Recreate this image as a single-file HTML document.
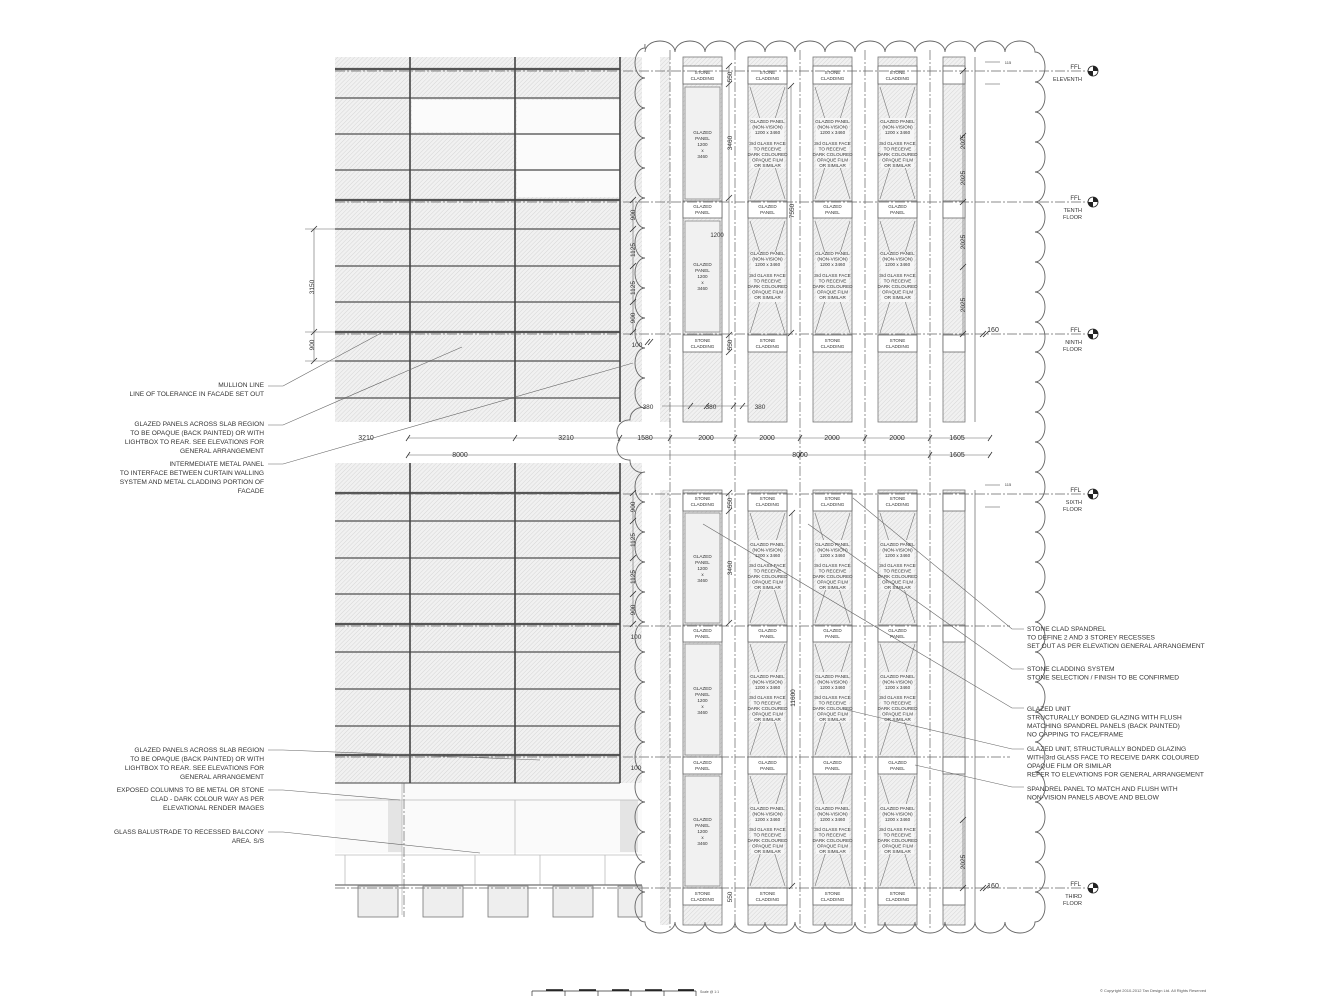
<!DOCTYPE html>
<html><head><meta charset="utf-8"><style>
html,body{margin:0;padding:0;background:#fff;width:1333px;height:1000px;overflow:hidden}
svg{display:block}
text{font-family:"Liberation Sans",sans-serif;fill:#333}
.s{font-size:4.6px;text-anchor:middle;fill:#4a4a4a}
.d{font-size:6.5px;text-anchor:middle;fill:#444}
.l{font-size:6.6px;fill:#333}
.r{font-size:6.6px;fill:#333;text-anchor:end}
</style></head><body>
<svg width="1333" height="1000" viewBox="0 0 1333 1000" xmlns="http://www.w3.org/2000/svg">
<defs>
<pattern id="h" width="3" height="3" patternUnits="userSpaceOnUse" patternTransform="rotate(45)"><rect width="3" height="3" fill="#f1f1f1"/><line x1="0" y1="0" x2="0" y2="3" stroke="#d2d2d2" stroke-width="0.9"/></pattern>
</defs>

<!-- LEFT FACADE upper -->
<rect x="335" y="57" width="285" height="365" fill="url(#h)"/>
<rect x="412" y="100" width="102" height="32" fill="#fbfbfb"/>
<rect x="517" y="100" width="102" height="97" fill="#fbfbfb"/>
<rect x="620" y="57" width="22" height="365" fill="url(#h)"/>
<g stroke="#555" stroke-width="2.2">
<line x1="335" y1="69" x2="620" y2="69"/><line x1="335" y1="200" x2="620" y2="200"/><line x1="335" y1="332" x2="620" y2="332"/>
</g>
<g stroke="#8a8a8a" stroke-width="2">
<line x1="335" y1="98" x2="620" y2="98"/><line x1="335" y1="134" x2="620" y2="134"/><line x1="335" y1="170" x2="620" y2="170"/>
<line x1="335" y1="229" x2="620" y2="229"/><line x1="335" y1="266" x2="620" y2="266"/><line x1="335" y1="302" x2="620" y2="302"/>
<line x1="335" y1="361" x2="620" y2="361"/><line x1="335" y1="398" x2="620" y2="398"/>
</g>
<g stroke="#444" stroke-width="1.6">
<line x1="410" y1="57" x2="410" y2="422"/><line x1="515" y1="57" x2="515" y2="422"/><line x1="620" y1="57" x2="620" y2="422"/>
</g>
<!-- LEFT FACADE lower -->
<rect x="335" y="463" width="285" height="320" fill="url(#h)"/>
<rect x="620" y="463" width="22" height="385" fill="url(#h)"/>
<rect x="335" y="783" width="307" height="70" fill="#fafafa"/>
<rect x="388" y="800" width="14" height="52" fill="#e4e4e4"/>
<rect x="620" y="800" width="18" height="52" fill="#e4e4e4"/>
<g stroke="#bbb" stroke-width="0.8" fill="none">
<line x1="335" y1="800" x2="642" y2="800"/><line x1="335" y1="855" x2="642" y2="855"/>
<line x1="345" y1="855" x2="345" y2="885"/><line x1="475" y1="855" x2="475" y2="885"/><line x1="540" y1="855" x2="540" y2="885"/><line x1="605" y1="855" x2="605" y2="885"/>
<line x1="402" y1="783" x2="402" y2="915"/><line x1="515" y1="800" x2="515" y2="855"/>
</g>
<line x1="335" y1="885" x2="642" y2="885" stroke="#888" stroke-width="1.5"/>
<g fill="#eee" stroke="#777" stroke-width="0.8">
<rect x="358" y="886" width="40" height="31"/><rect x="423" y="886" width="40" height="31"/><rect x="488" y="886" width="40" height="31"/><rect x="553" y="886" width="40" height="31"/><rect x="618" y="886" width="24" height="31"/>
</g>
<g stroke="#555" stroke-width="2.2">
<line x1="335" y1="493" x2="620" y2="493"/><line x1="335" y1="624" x2="620" y2="624"/><line x1="335" y1="755" x2="620" y2="755"/>
</g>
<g stroke="#8a8a8a" stroke-width="2">
<line x1="335" y1="521" x2="620" y2="521"/><line x1="335" y1="558" x2="620" y2="558"/><line x1="335" y1="594" x2="620" y2="594"/>
<line x1="335" y1="652" x2="620" y2="652"/><line x1="335" y1="689" x2="620" y2="689"/><line x1="335" y1="726" x2="620" y2="726"/>
</g>
<line x1="335" y1="783" x2="620" y2="783" stroke="#666" stroke-width="1.2"/>
<g stroke="#444" stroke-width="1.6">
<line x1="410" y1="463" x2="410" y2="783"/><line x1="515" y1="463" x2="515" y2="783"/><line x1="620" y1="463" x2="620" y2="783"/>
</g>

<!-- RIGHT COLUMNS background -->
<g fill="url(#h)">
<rect x="683" y="57" width="39" height="365"/><rect x="748" y="57" width="39" height="365"/><rect x="813" y="57" width="39" height="365"/><rect x="878" y="57" width="39" height="365"/><rect x="943" y="57" width="22" height="365"/>
<rect x="683" y="490" width="39" height="435"/><rect x="748" y="490" width="39" height="435"/><rect x="813" y="490" width="39" height="435"/><rect x="878" y="490" width="39" height="435"/><rect x="943" y="490" width="22" height="435"/>
<rect x="660" y="57" width="10" height="365"/><rect x="660" y="490" width="10" height="435"/>
</g>
<g fill="none" stroke="#777" stroke-width="0.8">
<rect x="683" y="57" width="39" height="365"/><rect x="748" y="57" width="39" height="365"/><rect x="813" y="57" width="39" height="365"/><rect x="878" y="57" width="39" height="365"/><rect x="943" y="57" width="22" height="365"/>
<rect x="683" y="490" width="39" height="435"/><rect x="748" y="490" width="39" height="435"/><rect x="813" y="490" width="39" height="435"/><rect x="878" y="490" width="39" height="435"/><rect x="943" y="490" width="22" height="435"/>
<line x1="975" y1="57" x2="975" y2="422"/><line x1="975" y1="490" x2="975" y2="925"/>
</g>
<!-- boxes -->
<g fill="#fff" stroke="#666" stroke-width="0.8">
<rect x="683" y="66" width="39" height="18"/><rect x="748" y="66" width="39" height="18"/><rect x="813" y="66" width="39" height="18"/><rect x="878" y="66" width="39" height="18"/><rect x="943" y="66" width="22" height="18"/>
<rect x="683" y="201" width="39" height="17"/><rect x="748" y="201" width="39" height="17"/><rect x="813" y="201" width="39" height="17"/><rect x="878" y="201" width="39" height="17"/><rect x="943" y="201" width="22" height="17"/>
<rect x="683" y="335" width="39" height="17"/><rect x="748" y="335" width="39" height="17"/><rect x="813" y="335" width="39" height="17"/><rect x="878" y="335" width="39" height="17"/><rect x="943" y="335" width="22" height="17"/>
<rect x="683" y="493" width="39" height="18"/><rect x="748" y="493" width="39" height="18"/><rect x="813" y="493" width="39" height="18"/><rect x="878" y="493" width="39" height="18"/><rect x="943" y="493" width="22" height="18"/>
<rect x="683" y="625" width="39" height="17"/><rect x="748" y="625" width="39" height="17"/><rect x="813" y="625" width="39" height="17"/><rect x="878" y="625" width="39" height="17"/><rect x="943" y="625" width="22" height="17"/>
<rect x="683" y="757" width="39" height="17"/><rect x="748" y="757" width="39" height="17"/><rect x="813" y="757" width="39" height="17"/><rect x="878" y="757" width="39" height="17"/><rect x="943" y="757" width="22" height="17"/>
<rect x="683" y="888" width="39" height="17"/><rect x="748" y="888" width="39" height="17"/><rect x="813" y="888" width="39" height="17"/><rect x="878" y="888" width="39" height="17"/><rect x="943" y="888" width="22" height="17"/>
</g>
<!-- col1 glazed panels -->
<g fill="#f1f1f1" stroke="#888" stroke-width="0.8">
<rect x="685" y="87" width="35" height="112"/><rect x="685" y="221" width="35" height="111"/><rect x="685" y="513" width="35" height="110"/><rect x="685" y="644" width="35" height="111"/><rect x="685" y="776" width="35" height="110"/>
</g>
<!-- X lines in non-vision panels -->
<g stroke="#777" stroke-width="0.6">
<path d="M750,87 L785,199 M785,87 L750,199 M815,87 L850,199 M850,87 L815,199 M880,87 L915,199 M915,87 L880,199"/>
<path d="M750,221 L785,333 M785,221 L750,333 M815,221 L850,333 M850,221 L815,333 M880,221 L915,333 M915,221 L880,333"/>
<path d="M750,513 L785,623 M785,513 L750,623 M815,513 L850,623 M850,513 L815,623 M880,513 L915,623 M915,513 L880,623"/>
<path d="M750,644 L785,755 M785,644 L750,755 M815,644 L850,755 M850,644 L815,755 M880,644 L915,755 M915,644 L880,755"/>
<path d="M750,776 L785,886 M785,776 L750,886 M815,776 L850,886 M850,776 L815,886 M880,776 L915,886 M915,776 L880,886"/>
</g>
<g fill="#f6f6f6">
<rect x="751" y="118" width="33" height="50"/><rect x="816" y="118" width="33" height="50"/><rect x="881" y="118" width="33" height="50"/>
<rect x="751" y="252" width="33" height="50"/><rect x="816" y="252" width="33" height="50"/><rect x="881" y="252" width="33" height="50"/>
<rect x="751" y="540" width="33" height="50"/><rect x="816" y="540" width="33" height="50"/><rect x="881" y="540" width="33" height="50"/>
<rect x="751" y="672" width="33" height="50"/><rect x="816" y="672" width="33" height="50"/><rect x="881" y="672" width="33" height="50"/>
<rect x="751" y="804" width="33" height="50"/><rect x="816" y="804" width="33" height="50"/><rect x="881" y="804" width="33" height="50"/>
</g>

<!-- centerlines dash-dot -->
<g stroke="#666" stroke-width="0.7" stroke-dasharray="10,2,2,2" fill="none">
<line x1="335" y1="71" x2="1090" y2="71"/><line x1="335" y1="202" x2="1090" y2="202"/><line x1="335" y1="334" x2="1090" y2="334"/>
<line x1="335" y1="494" x2="1090" y2="494"/><line x1="335" y1="626" x2="1010" y2="626"/><line x1="335" y1="757" x2="1010" y2="757"/><line x1="335" y1="888" x2="1090" y2="888"/>
<line x1="670" y1="50" x2="670" y2="930"/><line x1="735" y1="50" x2="735" y2="930"/><line x1="800" y1="50" x2="800" y2="930"/><line x1="865" y1="50" x2="865" y2="930"/><line x1="930" y1="50" x2="930" y2="930"/>
<line x1="404" y1="783" x2="404" y2="917"/>
</g>

<!-- CLOUD -->
<path fill="none" stroke="#666" stroke-width="0.9" d="M645,52
a15,11 0 0 1 30,0 a15,11 0 0 1 30,0 a15,11 0 0 1 30,0 a15,11 0 0 1 30,0 a15,11 0 0 1 30,0 a15,11 0 0 1 30,0 a15,11 0 0 1 30,0 a15,11 0 0 1 30,0 a15,11 0 0 1 30,0 a15,11 0 0 1 30,0 a15,11 0 0 1 30,0 a15,11 0 0 1 30,0 a15,11 0 0 1 30,0
a10,15 0 0 1 0,30 a10,15 0 0 1 0,30 a10,15 0 0 1 0,30 a10,15 0 0 1 0,30 a10,15 0 0 1 0,30 a10,15 0 0 1 0,30 a10,15 0 0 1 0,30 a10,15 0 0 1 0,30 a10,15 0 0 1 0,30 a10,15 0 0 1 0,30 a10,15 0 0 1 0,30 a10,15 0 0 1 0,30 a10,15 0 0 1 0,30 a10,15 0 0 1 0,30 a10,15 0 0 1 0,30 a10,15 0 0 1 0,30 a10,15 0 0 1 0,30 a10,15 0 0 1 0,30 a10,15 0 0 1 0,30 a10,15 0 0 1 0,30 a10,15 0 0 1 0,30 a10,15 0 0 1 0,30 a10,15 0 0 1 0,30 a10,15 0 0 1 0,30 a10,15 0 0 1 0,30 a10,15 0 0 1 0,30 a10,15 0 0 1 0,30 a10,15 0 0 1 0,30 a10,15 0 0 1 0,30
a15,11 0 0 1 -30,0 a15,11 0 0 1 -30,0 a15,11 0 0 1 -30,0 a15,11 0 0 1 -30,0 a15,11 0 0 1 -30,0 a15,11 0 0 1 -30,0 a15,11 0 0 1 -30,0 a15,11 0 0 1 -30,0 a15,11 0 0 1 -30,0 a15,11 0 0 1 -30,0 a15,11 0 0 1 -30,0 a15,11 0 0 1 -30,0 a15,11 0 0 1 -30,0
a10,15 0 0 1 0,-30 a10,15 0 0 1 0,-30 a10,15 0 0 1 0,-30 a10,15 0 0 1 0,-30 a10,15 0 0 1 0,-30 a10,15 0 0 1 0,-30 a10,15 0 0 1 0,-30 a10,15 0 0 1 0,-30 a10,15 0 0 1 0,-30 a10,15 0 0 1 0,-30 a10,15 0 0 1 0,-30 a10,15 0 0 1 0,-30 a10,15 0 0 1 0,-30 a10,15 0 0 1 0,-30 a10,15 0 0 1 0,-30
a12,12 0 0 1 -15,-12 a12,12 0 0 1 -10,-20 a12,12 0 0 1 10,-20 a12,12 0 0 1 15,-12
a10,15 0 0 1 0,-30 a10,15 0 0 1 0,-30 a10,15 0 0 1 0,-30 a10,15 0 0 1 0,-30 a10,15 0 0 1 0,-30 a10,15 0 0 1 0,-30 a10,15 0 0 1 0,-30 a10,15 0 0 1 0,-30 a10,15 0 0 1 0,-30 a10,15 0 0 1 0,-30 a10,15 0 0 1 0,-30 a10,15 0 0 1 0,-30 a10,15 0 0 1 0,-4"/>

<!-- panel texts -->
<g class="s">
<text><tspan x="702.5" y="74">STONE</tspan><tspan x="702.5" y="80">CLADDING</tspan><tspan x="767.5" y="74">STONE</tspan><tspan x="767.5" y="80">CLADDING</tspan><tspan x="832.5" y="74">STONE</tspan><tspan x="832.5" y="80">CLADDING</tspan><tspan x="897.5" y="74">STONE</tspan><tspan x="897.5" y="80">CLADDING</tspan></text>
<text><tspan x="702.5" y="342">STONE</tspan><tspan x="702.5" y="348">CLADDING</tspan><tspan x="767.5" y="342">STONE</tspan><tspan x="767.5" y="348">CLADDING</tspan><tspan x="832.5" y="342">STONE</tspan><tspan x="832.5" y="348">CLADDING</tspan><tspan x="897.5" y="342">STONE</tspan><tspan x="897.5" y="348">CLADDING</tspan></text>
<text><tspan x="702.5" y="500">STONE</tspan><tspan x="702.5" y="506">CLADDING</tspan><tspan x="767.5" y="500">STONE</tspan><tspan x="767.5" y="506">CLADDING</tspan><tspan x="832.5" y="500">STONE</tspan><tspan x="832.5" y="506">CLADDING</tspan><tspan x="897.5" y="500">STONE</tspan><tspan x="897.5" y="506">CLADDING</tspan></text>
<text><tspan x="702.5" y="895">STONE</tspan><tspan x="702.5" y="901">CLADDING</tspan><tspan x="767.5" y="895">STONE</tspan><tspan x="767.5" y="901">CLADDING</tspan><tspan x="832.5" y="895">STONE</tspan><tspan x="832.5" y="901">CLADDING</tspan><tspan x="897.5" y="895">STONE</tspan><tspan x="897.5" y="901">CLADDING</tspan></text>
<text><tspan x="702.5" y="208">GLAZED</tspan><tspan x="702.5" y="214">PANEL</tspan><tspan x="767.5" y="208">GLAZED</tspan><tspan x="767.5" y="214">PANEL</tspan><tspan x="832.5" y="208">GLAZED</tspan><tspan x="832.5" y="214">PANEL</tspan><tspan x="897.5" y="208">GLAZED</tspan><tspan x="897.5" y="214">PANEL</tspan></text>
<text><tspan x="702.5" y="632">GLAZED</tspan><tspan x="702.5" y="638">PANEL</tspan><tspan x="767.5" y="632">GLAZED</tspan><tspan x="767.5" y="638">PANEL</tspan><tspan x="832.5" y="632">GLAZED</tspan><tspan x="832.5" y="638">PANEL</tspan><tspan x="897.5" y="632">GLAZED</tspan><tspan x="897.5" y="638">PANEL</tspan></text>
<text><tspan x="702.5" y="764">GLAZED</tspan><tspan x="702.5" y="770">PANEL</tspan><tspan x="767.5" y="764">GLAZED</tspan><tspan x="767.5" y="770">PANEL</tspan><tspan x="832.5" y="764">GLAZED</tspan><tspan x="832.5" y="770">PANEL</tspan><tspan x="897.5" y="764">GLAZED</tspan><tspan x="897.5" y="770">PANEL</tspan></text>
<text><tspan x="702.5" y="134">GLAZED</tspan><tspan x="702.5" y="140">PANEL</tspan><tspan x="702.5" y="146">1200</tspan><tspan x="702.5" y="152">x</tspan><tspan x="702.5" y="158">3460</tspan></text>
<text><tspan x="702.5" y="266">GLAZED</tspan><tspan x="702.5" y="272">PANEL</tspan><tspan x="702.5" y="278">1200</tspan><tspan x="702.5" y="284">x</tspan><tspan x="702.5" y="290">3460</tspan></text>
<text><tspan x="702.5" y="558">GLAZED</tspan><tspan x="702.5" y="564">PANEL</tspan><tspan x="702.5" y="570">1200</tspan><tspan x="702.5" y="576">x</tspan><tspan x="702.5" y="582">3460</tspan></text>
<text><tspan x="702.5" y="690">GLAZED</tspan><tspan x="702.5" y="696">PANEL</tspan><tspan x="702.5" y="702">1200</tspan><tspan x="702.5" y="708">x</tspan><tspan x="702.5" y="714">3460</tspan></text>
<text><tspan x="702.5" y="821">GLAZED</tspan><tspan x="702.5" y="827">PANEL</tspan><tspan x="702.5" y="833">1200</tspan><tspan x="702.5" y="839">x</tspan><tspan x="702.5" y="845">3460</tspan></text>
</g>
<g class="s">
<text><tspan x="767.5" y="123">GLAZED PANEL</tspan><tspan x="767.5" y="128.5">(NON-VISION)</tspan><tspan x="767.5" y="134">1200 x 3460</tspan><tspan x="767.5" y="145">3rd GLASS FACE</tspan><tspan x="767.5" y="150.5">TO RECEIVE</tspan><tspan x="767.5" y="156">DARK COLOURED</tspan><tspan x="767.5" y="161.5">OPAQUE FILM</tspan><tspan x="767.5" y="167">OR SIMILAR</tspan></text>
<text><tspan x="832.5" y="123">GLAZED PANEL</tspan><tspan x="832.5" y="128.5">(NON-VISION)</tspan><tspan x="832.5" y="134">1200 x 3460</tspan><tspan x="832.5" y="145">3rd GLASS FACE</tspan><tspan x="832.5" y="150.5">TO RECEIVE</tspan><tspan x="832.5" y="156">DARK COLOURED</tspan><tspan x="832.5" y="161.5">OPAQUE FILM</tspan><tspan x="832.5" y="167">OR SIMILAR</tspan></text>
<text><tspan x="897.5" y="123">GLAZED PANEL</tspan><tspan x="897.5" y="128.5">(NON-VISION)</tspan><tspan x="897.5" y="134">1200 x 3460</tspan><tspan x="897.5" y="145">3rd GLASS FACE</tspan><tspan x="897.5" y="150.5">TO RECEIVE</tspan><tspan x="897.5" y="156">DARK COLOURED</tspan><tspan x="897.5" y="161.5">OPAQUE FILM</tspan><tspan x="897.5" y="167">OR SIMILAR</tspan></text>
<text><tspan x="767.5" y="255">GLAZED PANEL</tspan><tspan x="767.5" y="260.5">(NON-VISION)</tspan><tspan x="767.5" y="266">1200 x 3460</tspan><tspan x="767.5" y="277">3rd GLASS FACE</tspan><tspan x="767.5" y="282.5">TO RECEIVE</tspan><tspan x="767.5" y="288">DARK COLOURED</tspan><tspan x="767.5" y="293.5">OPAQUE FILM</tspan><tspan x="767.5" y="299">OR SIMILAR</tspan></text>
<text><tspan x="832.5" y="255">GLAZED PANEL</tspan><tspan x="832.5" y="260.5">(NON-VISION)</tspan><tspan x="832.5" y="266">1200 x 3460</tspan><tspan x="832.5" y="277">3rd GLASS FACE</tspan><tspan x="832.5" y="282.5">TO RECEIVE</tspan><tspan x="832.5" y="288">DARK COLOURED</tspan><tspan x="832.5" y="293.5">OPAQUE FILM</tspan><tspan x="832.5" y="299">OR SIMILAR</tspan></text>
<text><tspan x="897.5" y="255">GLAZED PANEL</tspan><tspan x="897.5" y="260.5">(NON-VISION)</tspan><tspan x="897.5" y="266">1200 x 3460</tspan><tspan x="897.5" y="277">3rd GLASS FACE</tspan><tspan x="897.5" y="282.5">TO RECEIVE</tspan><tspan x="897.5" y="288">DARK COLOURED</tspan><tspan x="897.5" y="293.5">OPAQUE FILM</tspan><tspan x="897.5" y="299">OR SIMILAR</tspan></text>
<text><tspan x="767.5" y="546">GLAZED PANEL</tspan><tspan x="767.5" y="551.5">(NON-VISION)</tspan><tspan x="767.5" y="557">1200 x 3460</tspan><tspan x="767.5" y="567">3rd GLASS FACE</tspan><tspan x="767.5" y="572.5">TO RECEIVE</tspan><tspan x="767.5" y="578">DARK COLOURED</tspan><tspan x="767.5" y="583.5">OPAQUE FILM</tspan><tspan x="767.5" y="589">OR SIMILAR</tspan></text>
<text><tspan x="832.5" y="546">GLAZED PANEL</tspan><tspan x="832.5" y="551.5">(NON-VISION)</tspan><tspan x="832.5" y="557">1200 x 3460</tspan><tspan x="832.5" y="567">3rd GLASS FACE</tspan><tspan x="832.5" y="572.5">TO RECEIVE</tspan><tspan x="832.5" y="578">DARK COLOURED</tspan><tspan x="832.5" y="583.5">OPAQUE FILM</tspan><tspan x="832.5" y="589">OR SIMILAR</tspan></text>
<text><tspan x="897.5" y="546">GLAZED PANEL</tspan><tspan x="897.5" y="551.5">(NON-VISION)</tspan><tspan x="897.5" y="557">1200 x 3460</tspan><tspan x="897.5" y="567">3rd GLASS FACE</tspan><tspan x="897.5" y="572.5">TO RECEIVE</tspan><tspan x="897.5" y="578">DARK COLOURED</tspan><tspan x="897.5" y="583.5">OPAQUE FILM</tspan><tspan x="897.5" y="589">OR SIMILAR</tspan></text>
<text><tspan x="767.5" y="678">GLAZED PANEL</tspan><tspan x="767.5" y="683.5">(NON-VISION)</tspan><tspan x="767.5" y="689">1200 x 3460</tspan><tspan x="767.5" y="699">3rd GLASS FACE</tspan><tspan x="767.5" y="704.5">TO RECEIVE</tspan><tspan x="767.5" y="710">DARK COLOURED</tspan><tspan x="767.5" y="715.5">OPAQUE FILM</tspan><tspan x="767.5" y="721">OR SIMILAR</tspan></text>
<text><tspan x="832.5" y="678">GLAZED PANEL</tspan><tspan x="832.5" y="683.5">(NON-VISION)</tspan><tspan x="832.5" y="689">1200 x 3460</tspan><tspan x="832.5" y="699">3rd GLASS FACE</tspan><tspan x="832.5" y="704.5">TO RECEIVE</tspan><tspan x="832.5" y="710">DARK COLOURED</tspan><tspan x="832.5" y="715.5">OPAQUE FILM</tspan><tspan x="832.5" y="721">OR SIMILAR</tspan></text>
<text><tspan x="897.5" y="678">GLAZED PANEL</tspan><tspan x="897.5" y="683.5">(NON-VISION)</tspan><tspan x="897.5" y="689">1200 x 3460</tspan><tspan x="897.5" y="699">3rd GLASS FACE</tspan><tspan x="897.5" y="704.5">TO RECEIVE</tspan><tspan x="897.5" y="710">DARK COLOURED</tspan><tspan x="897.5" y="715.5">OPAQUE FILM</tspan><tspan x="897.5" y="721">OR SIMILAR</tspan></text>
<text><tspan x="767.5" y="810">GLAZED PANEL</tspan><tspan x="767.5" y="815.5">(NON-VISION)</tspan><tspan x="767.5" y="821">1200 x 3460</tspan><tspan x="767.5" y="831">3rd GLASS FACE</tspan><tspan x="767.5" y="836.5">TO RECEIVE</tspan><tspan x="767.5" y="842">DARK COLOURED</tspan><tspan x="767.5" y="847.5">OPAQUE FILM</tspan><tspan x="767.5" y="853">OR SIMILAR</tspan></text>
<text><tspan x="832.5" y="810">GLAZED PANEL</tspan><tspan x="832.5" y="815.5">(NON-VISION)</tspan><tspan x="832.5" y="821">1200 x 3460</tspan><tspan x="832.5" y="831">3rd GLASS FACE</tspan><tspan x="832.5" y="836.5">TO RECEIVE</tspan><tspan x="832.5" y="842">DARK COLOURED</tspan><tspan x="832.5" y="847.5">OPAQUE FILM</tspan><tspan x="832.5" y="853">OR SIMILAR</tspan></text>
<text><tspan x="897.5" y="810">GLAZED PANEL</tspan><tspan x="897.5" y="815.5">(NON-VISION)</tspan><tspan x="897.5" y="821">1200 x 3460</tspan><tspan x="897.5" y="831">3rd GLASS FACE</tspan><tspan x="897.5" y="836.5">TO RECEIVE</tspan><tspan x="897.5" y="842">DARK COLOURED</tspan><tspan x="897.5" y="847.5">OPAQUE FILM</tspan><tspan x="897.5" y="853">OR SIMILAR</tspan></text>
</g>

<!-- DIMENSIONS -->
<g stroke="#666" stroke-width="0.6" fill="none">
<line x1="408" y1="438" x2="990" y2="438"/><line x1="408" y1="455" x2="990" y2="455"/>
<line x1="314" y1="229" x2="314" y2="361"/><line x1="305" y1="229" x2="335" y2="229"/><line x1="305" y1="332" x2="335" y2="332"/><line x1="305" y1="361" x2="335" y2="361"/>
<line x1="633" y1="200" x2="633" y2="332"/><line x1="633" y1="493" x2="633" y2="624"/>
<line x1="729" y1="66" x2="729" y2="352"/><line x1="729" y1="493" x2="729" y2="623"/>
<line x1="791" y1="86" x2="791" y2="333"/><line x1="792" y1="513" x2="792" y2="886"/>
<line x1="963" y1="71" x2="963" y2="334"/><line x1="963" y1="820" x2="963" y2="888"/>
<line x1="985" y1="62" x2="1000" y2="62"/><line x1="985" y1="84" x2="1000" y2="84"/>
<line x1="985" y1="485" x2="1000" y2="485"/><line x1="985" y1="507" x2="1000" y2="507"/>
</g>
<g stroke="#333" stroke-width="0.8">
<path d="M406,441 l4,-6 M513,441 l4,-6 M618,441 l4,-6 M668,441 l4,-6 M733,441 l4,-6 M798,441 l4,-6 M863,441 l4,-6 M928,441 l4,-6 M988,441 l4,-6"/>
<path d="M406,458 l4,-6 M798,458 l4,-6 M928,458 l4,-6 M988,458 l4,-6"/>
<path d="M311,232 l6,-6 M311,335 l6,-6 M311,364 l6,-6 M630,203 l6,-6 M630,232 l6,-6 M630,269 l6,-6 M630,305 l6,-6 M630,335 l6,-6 M630,496 l6,-6 M630,524 l6,-6 M630,561 l6,-6 M630,597 l6,-6 M630,627 l6,-6"/>
<path d="M726,69 l6,-6 M726,87 l6,-6 M726,201 l6,-6 M726,338 l6,-6 M726,355 l6,-6 M726,496 l6,-6 M726,514 l6,-6 M726,626 l6,-6 M788,89 l6,-6 M788,336 l6,-6 M789,516 l6,-6 M789,889 l6,-6"/>
<path d="M960,74 l6,-6 M960,139 l6,-6 M960,205 l6,-6 M960,270 l6,-6 M960,337 l6,-6 M960,823 l6,-6 M960,891 l6,-6 M980,337 l6,-6 M983,337 l6,-6 M980,891 l6,-6 M983,891 l6,-6"/>
<path d="M688,409 l5,-6 M704,409 l5,-6 M731,409 l5,-6 M740,409 l5,-6 M645,345 l5,-6 M648,345 l5,-6"/>
</g>
<line x1="662" y1="406" x2="748" y2="406" stroke="#666" stroke-width="0.6"/>
<g class="d">
<text x="366" y="440" style="font-size:7px">3210</text><text x="566" y="440" style="font-size:7px">3210</text><text x="645" y="440" style="font-size:7px">1580</text>
<text x="706" y="440" style="font-size:7px">2000</text><text x="767" y="440" style="font-size:7px">2000</text><text x="832" y="440" style="font-size:7px">2000</text><text x="897" y="440" style="font-size:7px">2000</text><text x="957" y="440" style="font-size:7px">1605</text>
<text x="460" y="457" style="font-size:7px">8000</text><text x="800" y="457" style="font-size:7px">8000</text><text x="957" y="457" style="font-size:7px">1605</text>
<text x="648" y="409">380</text><text x="711" y="409">380</text><text x="760" y="409">380</text>
<text x="637" y="347">100</text><text x="636" y="639">100</text><text x="636" y="770">100</text>
<text x="993" y="332" style="font-size:7px">160</text><text x="993" y="888" style="font-size:7px">160</text>
<text x="1008" y="64" style="font-size:4px">115</text><text x="1008" y="486" style="font-size:4px">115</text>
<text transform="translate(314,287) rotate(-90)">3150</text><text transform="translate(314,345) rotate(-90)">900</text>
<text transform="translate(635,215) rotate(-90)">900</text><text transform="translate(635,250) rotate(-90)">1125</text><text transform="translate(635,288) rotate(-90)">1125</text><text transform="translate(635,318) rotate(-90)">900</text>
<text transform="translate(635,507) rotate(-90)">900</text><text transform="translate(635,540) rotate(-90)">1125</text><text transform="translate(635,577) rotate(-90)">1125</text><text transform="translate(635,610) rotate(-90)">900</text>
<text transform="translate(732,77) rotate(-90)">550</text><text transform="translate(732,345) rotate(-90)">550</text><text transform="translate(732,503) rotate(-90)">550</text><text transform="translate(732,897) rotate(-90)">550</text>
<text transform="translate(732,143) rotate(-90)">3460</text><text transform="translate(732,568) rotate(-90)">3460</text>
<text transform="translate(794,211) rotate(-90)">7550</text><text transform="translate(795,698) rotate(-90)">11600</text>
<text transform="translate(965,142) rotate(-90)">2025</text><text transform="translate(965,178) rotate(-90)">2025</text><text transform="translate(965,242) rotate(-90)">2025</text><text transform="translate(965,305) rotate(-90)">2025</text><text transform="translate(965,862) rotate(-90)">2025</text>
<text x="717" y="237" style="font-size:6px">1200</text>
</g>

<!-- level markers -->
<g>
<circle cx="1093" cy="71" r="5" fill="#fff" stroke="#222" stroke-width="0.8"/><path d="M1093,71 L1093,66 A5,5 0 0 1 1098,71 Z M1093,71 L1093,76 A5,5 0 0 1 1088,71 Z" fill="#222"/>
<circle cx="1093" cy="202" r="5" fill="#fff" stroke="#222" stroke-width="0.8"/><path d="M1093,202 L1093,197 A5,5 0 0 1 1098,202 Z M1093,202 L1093,207 A5,5 0 0 1 1088,202 Z" fill="#222"/>
<circle cx="1093" cy="334" r="5" fill="#fff" stroke="#222" stroke-width="0.8"/><path d="M1093,334 L1093,329 A5,5 0 0 1 1098,334 Z M1093,334 L1093,339 A5,5 0 0 1 1088,334 Z" fill="#222"/>
<circle cx="1093" cy="494" r="5" fill="#fff" stroke="#222" stroke-width="0.8"/><path d="M1093,494 L1093,489 A5,5 0 0 1 1098,494 Z M1093,494 L1093,499 A5,5 0 0 1 1088,494 Z" fill="#222"/>
<circle cx="1093" cy="888" r="5" fill="#fff" stroke="#222" stroke-width="0.8"/><path d="M1093,888 L1093,883 A5,5 0 0 1 1098,888 Z M1093,888 L1093,893 A5,5 0 0 1 1088,888 Z" fill="#222"/>
</g>
<g class="r" style="font-size:6px">
<text x="1081" y="69">FFL</text><text x="1082" y="81" style="font-size:5.5px">ELEVENTH</text>
<text x="1081" y="200">FFL</text><text x="1082" y="212" style="font-size:5.5px">TENTH</text><text x="1082" y="219" style="font-size:5.5px">FLOOR</text>
<text x="1081" y="332">FFL</text><text x="1082" y="344" style="font-size:5.5px">NINTH</text><text x="1082" y="351" style="font-size:5.5px">FLOOR</text>
<text x="1081" y="492">FFL</text><text x="1082" y="504" style="font-size:5.5px">SIXTH</text><text x="1082" y="511" style="font-size:5.5px">FLOOR</text>
<text x="1081" y="886">FFL</text><text x="1082" y="898" style="font-size:5.5px">THIRD</text><text x="1082" y="905" style="font-size:5.5px">FLOOR</text>
</g>

<!-- leader lines -->
<g stroke="#666" stroke-width="0.6" fill="none">
<path d="M268,386 L283,386 L383,332"/>
<path d="M268,425 L283,425 L462,347"/>
<path d="M268,464 L283,464 L633,363"/>
<path d="M268,750 L283,750 L540,760"/>
<path d="M268,790 L283,790 L400,800"/>
<path d="M268,832 L283,832 L480,853"/>
<path d="M1024,629 L1012,629 L853,498"/>
<path d="M1024,669 L1012,669 L808,524"/>
<path d="M1024,708 L1012,708 L703,524"/>
<path d="M1024,749 L1012,749 L843,709"/>
<path d="M1024,787 L1012,787 L915,765"/>
</g>

<!-- left labels -->
<g class="r">
<text x="264" y="387">MULLION LINE</text><text x="264" y="396">LINE OF TOLERANCE IN FACADE SET OUT</text>
<text x="264" y="426">GLAZED PANELS ACROSS SLAB REGION</text><text x="264" y="435">TO BE OPAQUE (BACK PAINTED) OR WITH</text><text x="264" y="444">LIGHTBOX TO REAR.  SEE ELEVATIONS FOR</text><text x="264" y="453">GENERAL ARRANGEMENT</text>
<text x="264" y="466">INTERMEDIATE METAL PANEL</text><text x="264" y="475">TO INTERFACE BETWEEN CURTAIN WALLING</text><text x="264" y="484">SYSTEM AND METAL CLADDING PORTION OF</text><text x="264" y="493">FACADE</text>
<text x="264" y="752">GLAZED PANELS ACROSS SLAB REGION</text><text x="264" y="761">TO BE OPAQUE (BACK PAINTED) OR WITH</text><text x="264" y="770">LIGHTBOX TO REAR.  SEE ELEVATIONS FOR</text><text x="264" y="779">GENERAL ARRANGEMENT</text>
<text x="264" y="792">EXPOSED COLUMNS TO BE METAL OR STONE</text><text x="264" y="801">CLAD - DARK COLOUR WAY AS PER</text><text x="264" y="810">ELEVATIONAL RENDER IMAGES</text>
<text x="264" y="834">GLASS BALUSTRADE TO RECESSED BALCONY</text><text x="264" y="843">AREA. S/S</text>
</g>
<!-- right labels -->
<g class="l">
<text x="1027" y="631">STONE CLAD SPANDREL</text><text x="1027" y="639.5">TO DEFINE 2 AND 3 STOREY RECESSES</text><text x="1027" y="648">SET OUT AS PER ELEVATION GENERAL ARRANGEMENT</text>
<text x="1027" y="671">STONE CLADDING SYSTEM</text><text x="1027" y="679.5">STONE SELECTION / FINISH TO BE CONFIRMED</text>
<text x="1027" y="711">GLAZED UNIT</text><text x="1027" y="719.5">STRUCTURALLY BONDED GLAZING WITH FLUSH</text><text x="1027" y="728">MATCHING SPANDREL PANELS (BACK PAINTED)</text><text x="1027" y="736.5">NO CAPPING TO FACE/FRAME</text>
<text x="1027" y="751">GLAZED UNIT, STRUCTURALLY BONDED GLAZING</text><text x="1027" y="759.5">WITH 3rd GLASS FACE TO RECEIVE DARK COLOURED</text><text x="1027" y="768">OPAQUE FILM OR SIMILAR</text><text x="1027" y="776.5">REFER TO ELEVATIONS FOR GENERAL ARRANGEMENT</text>
<text x="1027" y="791">SPANDREL PANEL TO MATCH AND FLUSH WITH</text><text x="1027" y="799.5">NON-VISION PANELS ABOVE AND BELOW</text>
</g>

<!-- scale bar -->
<g stroke="#333" fill="none" stroke-width="0.7">
<path d="M532,991 L532,996 M532,991 L696,991 M565,991 L565,996 M598,991 L598,996 M631,991 L631,996 M664,991 L664,996 M696,991 L696,996"/>
</g>
<g stroke="#111" stroke-width="1.6">
<line x1="546" y1="990" x2="563" y2="990"/><line x1="579" y1="990" x2="596" y2="990"/><line x1="612" y1="990" x2="629" y2="990"/><line x1="645" y1="990" x2="662" y2="990"/><line x1="678" y1="990" x2="694" y2="990"/>
</g>
<text x="700" y="993" style="font-size:3.5px;fill:#555">Scale @ 1:1</text>
<text x="1100" y="992" style="font-size:4px;fill:#555">© Copyright 2010-2012 Tan Design Ltd. All Rights Reserved</text>
</svg>
</body></html>
